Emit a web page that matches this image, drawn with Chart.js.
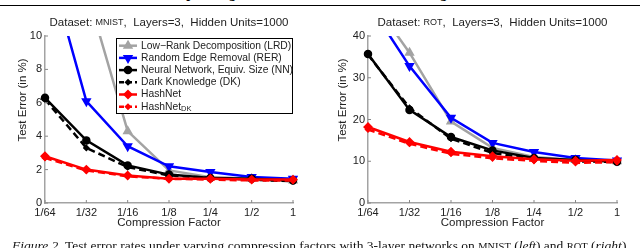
<!DOCTYPE html>
<html lang='en'>
  <head>
    <meta charset='UTF-8'>
    <title>Test error vs compression factor</title>
    <script src='https://cdn.jsdelivr.net/npm/chart.js@4.4.0/dist/chart.umd.min.js'></script>
    <style>
      body { margin: 0; width: 640px; height: 248px; overflow: hidden; background: #fff; position: relative; }
      canvas { position: absolute; top: 0; }
      #head { position: absolute; top: -14px; left: 0; width: 640px; text-align: center;
              font: bold 14px 'Liberation Serif', 'Times New Roman', serif; }
      #rule { position: absolute; top: 5px; left: 0; width: 640px; height: 0; border-top: 1.5px solid #000; }
      #cap { position: absolute; top: 238px; left: 12px; white-space: nowrap;
             font: 13.5px 'Liberation Serif', 'Times New Roman', serif; color: #111; }
      .sc { font-size: 10.5px; }
    </style>
  </head>
  <body>
    <div id='head'>Compressing Neural Networks with the Hashing Trick</div>
    <div id='rule'></div>
    <div style='position:absolute;left:0;top:0;width:320px;height:248px'><canvas id='mnist'></canvas></div>
    <div style='position:absolute;left:320px;top:0;width:320px;height:248px'><canvas id='rot'></canvas></div>
    <div id='cap'><i>Figure 2.</i> Test error rates under varying compression factors with 3-layer networks on <span class='sc'>MNIST</span> (<i>left</i>) and <span class='sc'>ROT</span> (<i>right</i>).</div>
    <script>
      // eje x: factores de compresión
      const factors = ['1/64', '1/32', '1/16', '1/8', '1/4', '1/2', '1'];

      // MNIST (izquierda)
      const mnistLRD    = [25, 12.8, 4.3, 1.95, 1.55, 1.45, 1.35];
      const mnistRER    = [15, 6.1, 3.4, 2.2, 1.85, 1.55, 1.45];
      const mnistNN     = [6.3, 3.75, 2.25, 1.7, 1.5, 1.45, 1.35];
      const mnistDK     = [6.2, 3.3, 2.15, 1.65, 1.5, 1.4, 1.3];
      const mnistHash   = [2.8, 2.0, 1.65, 1.45, 1.45, 1.4, 1.4];
      const mnistHashDK = [2.7, 1.95, 1.6, 1.45, 1.4, 1.35, 1.35];
      const mnistTicks  = [0, 2, 4, 6, 8, 10];

      // ROT (derecha)
      const rotLRD    = [50, 36, 19.5, 13.2, 11, 10.3, 10];
      const rotRER    = [48, 32.8, 20.4, 14.4, 12.2, 10.8, 10.2];
      const rotNN     = [35.7, 22.3, 15.8, 12.6, 10.8, 10.3, 9.9];
      const rotDK     = [35.5, 22.8, 15.4, 12.0, 10.6, 10.0, 9.8];
      const rotHash   = [18.2, 14.6, 12.3, 11.2, 10.5, 10.1, 10.3];
      const rotHashDK = [17.6, 14.2, 11.8, 10.7, 10.1, 9.6, 9.8];
      const rotTicks  = [0, 10, 20, 30, 40];

      const legendNames = ['Low\u2212Rank Decomposition (LRD)', 'Random Edge Removal (RER)',
        'Neural Network, Equiv. Size (NN)', 'Dark Knowledge (DK)', 'HashNet', 'HashNet'];

      const FONT = "'Liberation Sans', Arial, sans-serif";
      const GRAY = '#a3a3a3';

      // estilos de cada serie (color, marcador, guiones)
      const styles = [
        { color: GRAY,   pointStyle: 'triangle', rotation: 0,   radius: 3.5, dash: [] },
        { color: '#0000ff', pointStyle: 'triangle', rotation: 180, radius: 3.5, dash: [] },
        { color: '#000', pointStyle: 'circle',   rotation: 0,   radius: 3,   dash: [] },
        { color: '#000', pointStyle: 'rectRot',  rotation: 0,   radius: 1.8, dash: [7, 4] },
        { color: '#ff0000', pointStyle: 'rectRot', rotation: 0, radius: 3.2, dash: [] },
        { color: '#ff0000', pointStyle: 'rectRot', rotation: 0, radius: 1.8, dash: [7, 4] },
      ];

      function makeDatasets(series) {
        return series.map((data, i) => ({
          label: legendNames[i],
          data: data,
          borderColor: styles[i].color,
          backgroundColor: styles[i].color,
          pointBackgroundColor: styles[i].color,
          pointBorderColor: styles[i].color,
          pointStyle: styles[i].pointStyle,
          pointRotation: styles[i].rotation,
          pointRadius: styles[i].radius,
          borderWidth: 2.5,
          borderDash: styles[i].dash,
          tension: 0,
          order: 10 - i,   // rojo encima
        }));
      }

      function line(ctx, x1, y1, x2, y2) {
        ctx.beginPath(); ctx.moveTo(x1, y1); ctx.lineTo(x2, y2); ctx.stroke();
      }

      const decor = {
        id: 'decor',
        afterDraw(chart, args, o) {
          const { ctx, chartArea: a, scales } = chart;
          ctx.save();

          // marcas de los ejes hacia dentro
          ctx.strokeStyle = '#888'; ctx.lineWidth = 1;
          scales.y.ticks.forEach((t, i) => {
            const y = scales.y.getPixelForTick(i);
            line(ctx, a.left, y, a.left + 3, y);
          });
          scales.x.ticks.forEach((t, i) => {
            const x = scales.x.getPixelForTick(i);
            line(ctx, x, a.bottom, x, a.bottom - 3);
          });

          ctx.fillStyle = '#222';
          ctx.textBaseline = 'middle';

          // título con versalitas
          const parts = [['Dataset: ', 11.5], [o.name, 9], [',  Layers=3,  Hidden Units=1000', 11.5]];
          let total = 0;
          parts.forEach(p => { ctx.font = p[1] + 'px ' + FONT; total += ctx.measureText(p[0]).width; });
          let x = (a.left + a.right) / 2 - total / 2;
          ctx.textAlign = 'left';
          parts.forEach(p => {
            ctx.font = p[1] + 'px ' + FONT;
            ctx.fillText(p[0], x, 23);
            x += ctx.measureText(p[0]).width;
          });

          // títulos de ejes
          ctx.font = '11.5px ' + FONT;
          ctx.textAlign = 'center';
          ctx.fillText('Compression Factor', (a.left + a.right) / 2, 223);
          ctx.save();
          ctx.translate(23, 100);
          ctx.rotate(-Math.PI / 2);
          ctx.fillText('Test Error (in %)', 0, 0);
          ctx.restore();

          // leyenda dentro del gráfico
          if (o.legend) {
            const x0 = a.right - 177, y0 = a.top + 2, w = 176, h = 75;
            ctx.fillStyle = '#fff';
            ctx.fillRect(x0, y0, w, h);
            ctx.strokeStyle = '#000'; ctx.lineWidth = 1;
            ctx.strokeRect(x0 + 0.5, y0 + 0.5, w, h);
            styles.forEach((s, i) => {
              const y = y0 + 7.7 + i * 12.2;
              ctx.strokeStyle = s.color; ctx.fillStyle = s.color;
              ctx.lineWidth = 2.5;
              ctx.setLineDash(s.dash.length ? [5, 3] : []);
              line(ctx, x0 + 3, y, x0 + 21, y);
              ctx.setLineDash([]);
              Chart.helpers.drawPoint(ctx, { pointStyle: s.pointStyle, rotation: s.rotation, radius: s.radius, borderWidth: 1 }, x0 + 12, y);
              ctx.fillStyle = '#222';
              ctx.textAlign = 'left';
              ctx.font = '10.3px ' + FONT;
              ctx.fillText(legendNames[i], x0 + 25, y);
              if (i === 5) {
                const tw = ctx.measureText(legendNames[i]).width;
                ctx.font = '7.5px ' + FONT;
                ctx.fillText('DK', x0 + 25 + tw, y + 2);
              }
            });
          }
          ctx.restore();
        }
      };

      function makeChart(id, series, ticks, yMax, name, legend, yWidth, padRight) {
        return new Chart(document.getElementById(id), {
          type: 'line',
          data: { labels: factors, datasets: makeDatasets(series) },
          options: {
            responsive: true,
            maintainAspectRatio: false,
            animation: false,
            layout: { padding: { top: 36, right: padRight, left: 0, bottom: 0 } },
            plugins: {
              legend: { display: false },
              tooltip: { enabled: false },
              decor: { name: name, legend: legend },
            },
            scales: {
              x: {
                offset: false,
                grid: { drawOnChartArea: false, drawTicks: false },
                border: { color: GRAY, width: 1.5 },
                ticks: { color: '#222', font: { family: FONT, size: 11 }, padding: 3, maxRotation: 0, autoSkip: false },
                afterFit: s => { s.height = 45; },
              },
              y: {
                min: 0, max: yMax,
                grid: { drawOnChartArea: false, drawTicks: false },
                border: { color: GRAY, width: 1.5 },
                afterBuildTicks: s => { s.ticks = ticks.map(v => ({ value: v })); },
                ticks: { color: '#222', font: { family: FONT, size: 11 }, padding: 3 },
                afterFit: s => { s.width = yWidth; },
              },
            },
          },
          plugins: [decor],
        });
      }

      makeChart('mnist', [mnistLRD, mnistRER, mnistNN, mnistDK, mnistHash, mnistHashDK], mnistTicks, 10, 'MNIST', true, 45, 27);
      makeChart('rot', [rotLRD, rotRER, rotNN, rotDK, rotHash, rotHashDK], rotTicks, 40, 'ROT', false, 48, 23);
    </script>
  </body>
</html>
